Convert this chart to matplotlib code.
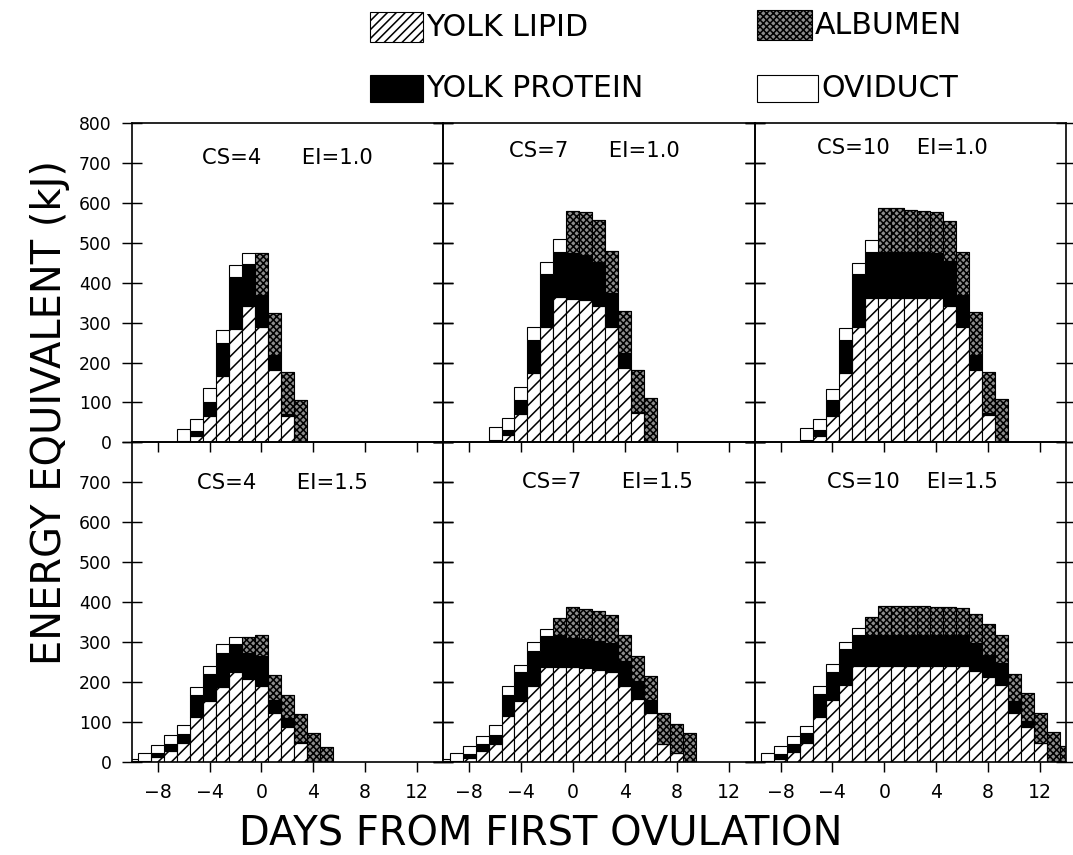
import matplotlib
matplotlib.use("Agg")
import matplotlib.pyplot as plt
from matplotlib.patches import Rectangle

# days from first ovulation and energy (kJ) of each component, one set per panel
days_cs4_ei10 = list(range(-6, 4))
lipid_cs4_ei10 = [2, 17, 67, 167, 283, 341, 289, 182, 65, 0]
protein_cs4_ei10 = [2, 12, 35, 82, 131, 105, 79, 36, 5, 0]
albumen_cs4_ei10 = [0, 0, 0, 0, 0, 0, 107, 107, 107, 107]
oviduct_cs4_ei10 = [29, 30, 34, 33, 30, 29, 0, 0, 0, 0]

days_cs7_ei10 = list(range(-6, 7))
lipid_cs7_ei10 = [2, 19, 71, 174, 290, 364, 360, 357, 341, 290, 186, 73, 0]
protein_cs7_ei10 = [4, 12, 36, 83, 132, 114, 114, 113, 112, 84, 38, 4, 0]
albumen_cs7_ei10 = [0, 0, 0, 0, 0, 0, 106, 107, 103, 106, 106, 105, 111]
oviduct_cs7_ei10 = [32, 30, 31, 32, 31, 32, 0, 0, 0, 0, 0, 0, 0]

days_cs10_ei10 = list(range(-6, 10))
lipid_cs10_ei10 = [2, 17, 67, 173, 288, 362, 362, 362, 362, 362, 362, 342, 288, 182, 69, 0]
protein_cs10_ei10 = [4, 13, 38, 84, 133, 115, 115, 115, 115, 115, 113, 112, 81, 37, 4, 0]
albumen_cs10_ei10 = [0, 0, 0, 0, 0, 0, 109, 109, 106, 103, 101, 100, 108, 108, 104, 108]
oviduct_cs10_ei10 = [30, 29, 29, 29, 29, 30, 0, 0, 0, 0, 0, 0, 0, 0, 0, 0]

days_cs4_ei15 = list(range(-10, 6))
lipid_cs4_ei15 = [1, 2, 13, 27, 47, 113, 151, 188, 226, 207, 190, 122, 87, 47, 0, 0]
protein_cs4_ei15 = [1, 1, 9, 18, 23, 54, 69, 85, 69, 65, 75, 33, 22, 3, 0, 0]
albumen_cs4_ei15 = [0, 0, 0, 0, 0, 0, 0, 0, 0, 41, 52, 62, 58, 70, 72, 37]
oviduct_cs4_ei15 = [6, 20, 19, 21, 21, 21, 21, 21, 18, 0, 0, 0, 0, 0, 0, 0]

days_cs7_ei15 = list(range(-10, 10))
lipid_cs7_ei15 = [1, 2, 10, 27, 45, 114, 153, 189, 237, 237, 237, 235, 231, 225, 189, 156, 122, 45, 22, 0]
protein_cs7_ei15 = [1, 1, 10, 18, 23, 54, 71, 89, 77, 81, 73, 72, 72, 73, 63, 46, 33, 0, 0, 0]
albumen_cs7_ei15 = [0, 0, 0, 0, 0, 0, 0, 0, 0, 42, 77, 75, 74, 70, 66, 64, 60, 76, 73, 72]
oviduct_cs7_ei15 = [4, 20, 19, 19, 23, 21, 19, 21, 19, 0, 0, 0, 0, 0, 0, 0, 0, 0, 0, 0]

days_cs10_ei15 = list(range(-9, 15))
lipid_cs10_ei15 = [2, 8, 25, 46, 113, 154, 192, 240, 240, 240, 240, 240, 240, 240, 240, 240,
                   228, 211, 193, 123, 86, 48, 0, 0]
protein_cs10_ei15 = [1, 11, 19, 25, 56, 71, 90, 77, 77, 77, 77, 77, 77, 77, 77, 77,
                     70, 56, 55, 29, 17, 0, 0, 0]
albumen_cs10_ei15 = [0, 0, 0, 0, 0, 0, 0, 0, 46, 73, 73, 73, 73, 70, 70, 69,
                     71, 77, 70, 67, 69, 74, 75, 40]
oviduct_cs10_ei15 = [20, 21, 21, 19, 21, 21, 18, 19, 0, 0, 0, 0, 0, 0, 0, 0,
                     0, 0, 0, 0, 0, 0, 0, 0]

panels = [
    ("CS=4      EI=1.0", days_cs4_ei10, lipid_cs4_ei10, protein_cs4_ei10, albumen_cs4_ei10, oviduct_cs4_ei10),
    ("CS=7      EI=1.0", days_cs7_ei10, lipid_cs7_ei10, protein_cs7_ei10, albumen_cs7_ei10, oviduct_cs7_ei10),
    ("CS=10    EI=1.0", days_cs10_ei10, lipid_cs10_ei10, protein_cs10_ei10, albumen_cs10_ei10, oviduct_cs10_ei10),
    ("CS=4      EI=1.5", days_cs4_ei15, lipid_cs4_ei15, protein_cs4_ei15, albumen_cs4_ei15, oviduct_cs4_ei15),
    ("CS=7      EI=1.5", days_cs7_ei15, lipid_cs7_ei15, protein_cs7_ei15, albumen_cs7_ei15, oviduct_cs7_ei15),
    ("CS=10    EI=1.5", days_cs10_ei15, lipid_cs10_ei15, protein_cs10_ei15, albumen_cs10_ei15, oviduct_cs10_ei15),
]
title_pos = [(0.499, 0.892), (0.486, 0.913), (0.476, 0.922),
             (0.485, 0.873), (0.529, 0.875), (0.508, 0.875)]

plt.rcParams['font.family'] = ['DejaVu Sans']
plt.rcParams['hatch.linewidth'] = 1.4

DPI = 80
fig, axs = plt.subplots(2, 3, figsize=(1073 / DPI, 855 / DPI), dpi=DPI)
fig.subplots_adjust(left=0.1227, right=0.9935, top=0.8561, bottom=0.1091, wspace=0, hspace=0)
axs = axs.flatten()

bar_kw = dict(width=1.0, edgecolor='black', linewidth=1.0)

for i, (title, d, lip, pro, alb, ovi) in enumerate(panels):
    ax = axs[i]
    ax.patch.set_visible(False)
    b1 = lip
    b2 = [a + b for a, b in zip(b1, pro)]
    b3 = [a + b for a, b in zip(b2, alb)]
    ax.bar(d, lip, facecolor='white', hatch='//', **bar_kw)
    ax.bar(d, pro, bottom=b1, facecolor='black', **bar_kw)
    ax.bar(d, alb, bottom=b2, facecolor='0.55', hatch='xxxx', **bar_kw)
    ax.bar(d, ovi, bottom=b3, facecolor='white', **bar_kw)

    ax.set_xlim(-10, 14)
    ax.set_ylim(0, 800)
    for s in ax.spines.values():
        s.set_linewidth(1.5)

    ax.set_xticks([-8, -4, 0, 4, 8, 12])
    ax.set_yticks(range(0, 801, 100))
    ax.tick_params(axis='y', left=True, right=True, direction='inout',
                   length=18, width=1.3, labelsize=15.5, pad=9)
    ax.tick_params(axis='x', bottom=True, top=False, direction='out',
                   length=9, width=1.3, labelsize=17, pad=10)
    if i < 3:
        ax.tick_params(axis='x', labelbottom=False)
        ax.set_yticklabels([str(v) for v in range(0, 801, 100)])
    else:
        ax.set_yticklabels([str(v) for v in range(0, 701, 100)] + [''])
    if i % 3 != 0:
        ax.tick_params(axis='y', labelleft=False)

    ax.text(title_pos[i][0], title_pos[i][1], title, transform=ax.transAxes,
            ha='center', va='center', fontsize=19)

fig.text(0.047, 0.517, "ENERGY EQUIVALENT (kJ)", rotation=90,
         ha='center', va='center', fontsize=36)
fig.text(0.504, 0.024, "DAYS FROM FIRST OVULATION",
         ha='center', va='center', fontsize=36)

# legend drawn at the top of the figure
W, H = 1073.0, 855.0
legend_items = [
    ("YOLK LIPID", 370, 12, 53, 30, 'white', '///'),
    ("ALBUMEN", 757, 10, 55, 30, '0.55', 'xxxx'),
    ("YOLK PROTEIN", 370, 75, 53, 27, 'black', None),
    ("OVIDUCT", 757, 75, 61, 27, 'white', None),
]
for label, x, y, w, h, fc, hatch in legend_items:
    r = Rectangle((x / W, 1 - (y + h) / H), w / W, h / H, transform=fig.transFigure,
                  facecolor=fc, edgecolor='black', linewidth=1.0, hatch=hatch)
    fig.add_artist(r)
    fig.text((x + w + 3) / W, 1 - (y + h / 2) / H, label, ha='left', va='center',
             fontsize=27)

plt.savefig("out.png", dpi=DPI)
